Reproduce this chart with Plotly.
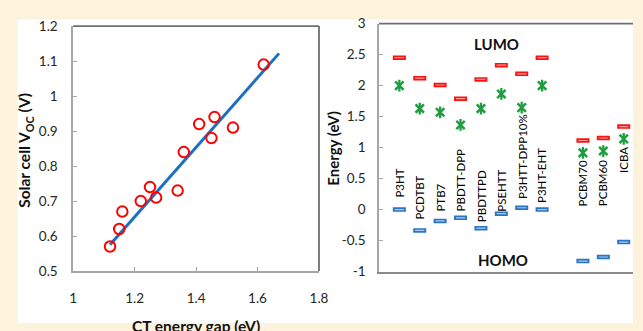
import plotly.graph_objects as go

# ---- Left panel: Voc vs charge-transfer energy gap ----
ct_gap = [1.12, 1.15, 1.16, 1.22, 1.25, 1.27, 1.34, 1.36, 1.41, 1.45, 1.46, 1.52, 1.62]
voc = [0.57, 0.62, 0.67, 0.70, 0.74, 0.71, 0.73, 0.84, 0.92, 0.88, 0.94, 0.91, 1.09]
fit_x = [1.12, 1.67]
fit_y = [0.575, 1.122]

# ---- Right panel: frontier orbital energies ----
donors = ["P3HT", "PCDTBT", "PTB7", "PBDTT-DPP", "PBDTTPD", "PSEHTT", "P3HTT-DPP10%", "P3HT-EHT"]
acceptors = ["PCBM70", "PCBM60", "ICBA"]
lumo = [2.45, 2.12, 2.01, 1.79, 2.10, 2.33, 2.19, 2.45, 1.115, 1.155, 1.34]
ct_level = [2.00, 1.63, 1.57, 1.365, 1.63, 1.865, 1.645, 2.00, 0.915, 0.945, 1.14]
homo = [0.0, -0.336, -0.183, -0.132, -0.30, -0.065, 0.03, 0.0, -0.83, -0.764, -0.524]
# where each material name sits (bottom of the rotated text, eV)
label_base = [0.175, -0.18, -0.045, -0.045, -0.22, -0.045, 0.16, 0.085, 0.033, 0.044, 0.57]

y2_ticks = [-1, -0.5, 0, 0.5, 1, 1.5, 2, 2.5, 3]

names = donors + acceptors
# one empty slot between donors and acceptors
slots = [i + 1 for i in range(len(donors))] + [len(donors) + 2 + i for i in range(len(acceptors))]

W, H = 643, 331
FONT = "Lato"
def fx(p):
    return p / W
def fy(p):
    return 1 - p / H

fig = go.Figure()

fig.add_trace(go.Scatter(
    x=fit_x, y=fit_y, mode="lines", line=dict(color="#1F6FC1", width=3),
    xaxis="x", yaxis="y", hoverinfo="skip"))
fig.add_trace(go.Scatter(
    x=ct_gap, y=voc, mode="markers",
    marker=dict(symbol="circle-open", size=10.5, color="#FF0000", line=dict(width=2, color="#FF0000")),
    xaxis="x", yaxis="y"))

def dash(yvals, outer, inner):
    fig.add_trace(go.Scatter(
        x=slots, y=yvals, mode="markers",
        marker=dict(symbol="line-ew-open", size=9.3, color=outer, line=dict(width=4.5, color=outer)),
        xaxis="x2", yaxis="y2"))
    fig.add_trace(go.Scatter(
        x=slots, y=yvals, mode="markers",
        marker=dict(symbol="line-ew-open", size=6.6, color=inner, line=dict(width=1.2, color=inner)),
        xaxis="x2", yaxis="y2", hoverinfo="skip"))

dash(lumo, "#FF1010", "#FF9A9A")
dash(homo, "#2B73C4", "#A9CBEF")

green = "#1E9E3E"
fig.add_trace(go.Scatter(
    x=slots, y=ct_level, mode="markers",
    marker=dict(symbol="x-thin-open", size=8.4, color=green, line=dict(width=2.5, color=green)),
    xaxis="x2", yaxis="y2"))
fig.add_trace(go.Scatter(
    x=slots, y=ct_level, mode="markers",
    marker=dict(symbol="line-ns-open", size=8.4, color=green, line=dict(width=2.3, color=green)),
    xaxis="x2", yaxis="y2", hoverinfo="skip"))

tick_font = dict(family=FONT, size=13.5, color="#262626")
light = "#A6A6A6"
dark = "#6E6E6E"

x2_max = (W - 383.3) / 20.85

fig.update_layout(
    width=W, height=H, margin=dict(l=0, r=0, t=0, b=0),
    paper_bgcolor="#FDF3DC", plot_bgcolor="rgba(0,0,0,0)",
    showlegend=False,
    xaxis=dict(domain=[fx(70.7), fx(322)], range=[1, 1.8], dtick=0.2, tick0=1,
               showgrid=False, zeroline=False, showline=True, linecolor=light, linewidth=1.5,
               ticks="inside", ticklen=4, tickcolor=light, tickfont=tick_font, ticklabelstandoff=14),
    yaxis=dict(domain=[fy(276.4), fy(19)], range=[0.5, 1.2], dtick=0.1, tick0=0.5,
               showgrid=False, zeroline=False, showline=True, linecolor=light, linewidth=1.5,
               ticks="inside", ticklen=4, tickcolor=light, tickfont=tick_font, ticklabelstandoff=11),
    xaxis2=dict(domain=[fx(383.3), 1], range=[0, x2_max], anchor="y2",
                showgrid=False, zeroline=False, showline=True, linecolor="#8A8A8A", linewidth=1.8,
                ticks="", showticklabels=False),
    yaxis2=dict(domain=[fy(277), fy(16.4)], range=[-1, 3], anchor="x2",
                tickvals=y2_ticks, ticktext=[("-" + f"{abs(v):g}") if v < 0 else f"{v:g}" for v in y2_ticks],
                showgrid=False, zeroline=False, showline=True, linecolor=light, linewidth=1.5,
                ticks="inside", ticklen=4, tickcolor=light, tickfont=tick_font, ticklabelstandoff=9),
)

shapes = [
    # white card behind both panels
    dict(type="rect", xref="paper", yref="paper", x0=fx(14), x1=1, y0=0, y1=fy(12),
         fillcolor="white", line=dict(width=0), layer="below"),
    # darker top / right frame edges
    dict(type="line", xref="x domain", yref="y domain", x0=0, x1=1, y0=1, y1=1,
         line=dict(color=dark, width=1.8)),
    dict(type="line", xref="x domain", yref="y domain", x0=1, x1=1, y0=0, y1=1,
         line=dict(color=dark, width=1.8)),
    dict(type="line", xref="x2 domain", yref="y2 domain", x0=0, x1=1, y0=1, y1=1,
         line=dict(color=dark, width=1.8)),
]
fig.update_layout(shapes=shapes)

ann = []
title_font = dict(family=FONT, size=15.5, color="#111111", weight="bold")
ann.append(dict(text="Solar cell V<sub>OC</sub> (V)", x=fx(21.5), y=fy(150), xref="paper", yref="paper",
                textangle=-90, showarrow=False, font=title_font, xanchor="center", yanchor="middle"))
ann.append(dict(text="CT energy gap (eV)", x=fx(196), y=fy(323), xref="paper", yref="paper",
                showarrow=False, font=title_font, xanchor="center", yanchor="top"))
ann.append(dict(text="Energy (eV)", x=fx(336.7), y=fy(147.5), xref="paper", yref="paper",
                textangle=-90, showarrow=False, font=dict(family=FONT, size=15, color="#111111", weight="bold"),
                xanchor="center", yanchor="middle"))
ann.append(dict(text="LUMO", x=fx(503), y=fy(37.7), xref="paper", yref="paper", showarrow=False,
                font=dict(family=FONT, size=15, color="#111111", weight="bold"), xanchor="center", yanchor="middle"))
ann.append(dict(text="HOMO", x=fx(510), y=fy(264.3), xref="paper", yref="paper", showarrow=False,
                font=dict(family=FONT, size=15, color="#111111", weight="bold"), xanchor="center", yanchor="middle"))
for name, s, b in zip(names, slots, label_base):
    ann.append(dict(text=name, x=s, y=b, xref="x2", yref="y2", textangle=-90, showarrow=False,
                    xanchor="center", yanchor="bottom", borderpad=0,
                    font=dict(family=FONT, size=11.5, color="#000000")))
fig.update_layout(annotations=ann)

fig.write_html("out.html")
